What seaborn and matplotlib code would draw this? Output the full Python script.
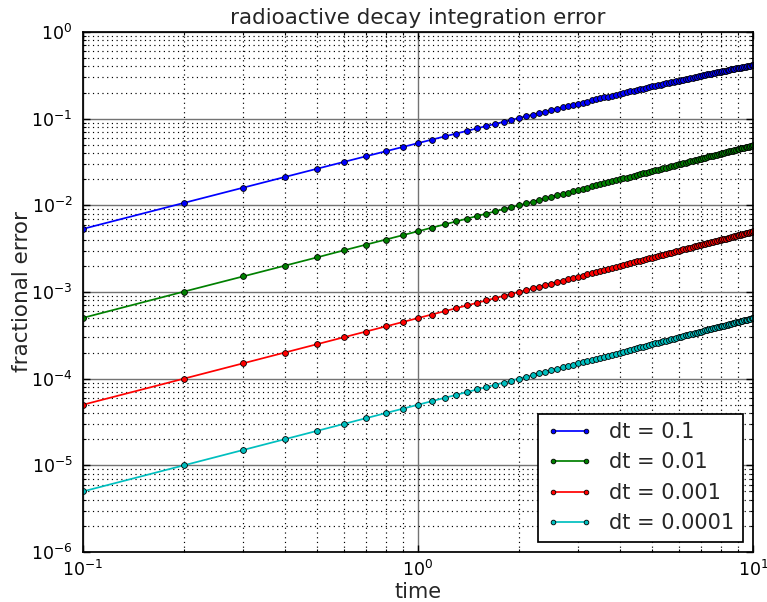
import matplotlib
matplotlib.use("Agg")
import matplotlib.pyplot as plt
import seaborn as sns

# ---------------- data ----------------
time = [0.1, 0.2, 0.3, 0.4, 0.5, 0.6, 0.7, 0.8, 0.9, 1.0,
        1.1, 1.2, 1.3, 1.4, 1.5, 1.6, 1.7, 1.8, 1.9, 2.0,
        2.1, 2.2, 2.3, 2.4, 2.5, 2.6, 2.7, 2.8, 2.9, 3.0,
        3.1, 3.2, 3.3, 3.4, 3.5, 3.6, 3.7, 3.8, 3.9, 4.0,
        4.1, 4.2, 4.3, 4.4, 4.5, 4.6, 4.7, 4.8, 4.9, 5.0,
        5.1, 5.2, 5.3, 5.4, 5.5, 5.6, 5.7, 5.8, 5.9, 6.0,
        6.1, 6.2, 6.3, 6.4, 6.5, 6.6, 6.7, 6.8, 6.9, 7.0,
        7.1, 7.2, 7.3, 7.4, 7.5, 7.6, 7.7, 7.8, 7.9, 8.0,
        8.1, 8.2, 8.3, 8.4, 8.5, 8.6, 8.7, 8.8, 8.9, 9.0,
        9.1, 9.2, 9.3, 9.4, 9.5, 9.6, 9.7, 9.8, 9.9, 10.0]

err_dt_0_1 = [0.005346, 0.01066, 0.01595, 0.02121, 0.02645, 0.03165, 0.03683, 0.04198, 0.04710, 0.05219,
              0.05726, 0.06230, 0.06731, 0.07230, 0.07726, 0.08219, 0.08710, 0.09198, 0.09684, 0.1017,
              0.1065, 0.1112, 0.1160, 0.1207, 0.1254, 0.1301, 0.1347, 0.1394, 0.1440, 0.1486,
              0.1531, 0.1576, 0.1621, 0.1666, 0.1711, 0.1755, 0.1799, 0.1843, 0.1887, 0.1930,
              0.1973, 0.2016, 0.2059, 0.2101, 0.2143, 0.2185, 0.2227, 0.2269, 0.2310, 0.2351,
              0.2392, 0.2433, 0.2473, 0.2513, 0.2553, 0.2593, 0.2633, 0.2672, 0.2711, 0.2750,
              0.2789, 0.2828, 0.2866, 0.2904, 0.2942, 0.2980, 0.3017, 0.3055, 0.3092, 0.3129,
              0.3165, 0.3202, 0.3238, 0.3275, 0.3310, 0.3346, 0.3382, 0.3417, 0.3452, 0.3487,
              0.3522, 0.3557, 0.3591, 0.3626, 0.3660, 0.3694, 0.3727, 0.3761, 0.3794, 0.3827,
              0.3860, 0.3893, 0.3926, 0.3958, 0.3991, 0.4023, 0.4055, 0.4086, 0.4118, 0.4149]

err_dt_0_01 = [0.000503, 0.00101, 0.00151, 0.00201, 0.00251, 0.00302, 0.00352, 0.00402, 0.00452, 0.00502,
               0.00552, 0.00602, 0.00652, 0.00702, 0.00752, 0.00802, 0.00852, 0.00902, 0.00952, 0.0100,
               0.0105, 0.0110, 0.0115, 0.0120, 0.0125, 0.0130, 0.0135, 0.0140, 0.0145, 0.0150,
               0.0155, 0.0160, 0.0165, 0.0170, 0.0175, 0.0180, 0.0185, 0.0189, 0.0194, 0.0199,
               0.0204, 0.0209, 0.0214, 0.0219, 0.0224, 0.0229, 0.0234, 0.0239, 0.0244, 0.0249,
               0.0253, 0.0258, 0.0263, 0.0268, 0.0273, 0.0278, 0.0283, 0.0288, 0.0293, 0.0298,
               0.0302, 0.0307, 0.0312, 0.0317, 0.0322, 0.0327, 0.0332, 0.0336, 0.0341, 0.0346,
               0.0351, 0.0356, 0.0361, 0.0366, 0.0370, 0.0375, 0.0380, 0.0385, 0.0390, 0.0395,
               0.0400, 0.0404, 0.0409, 0.0414, 0.0419, 0.0424, 0.0428, 0.0433, 0.0438, 0.0443,
               0.0448, 0.0453, 0.0457, 0.0462, 0.0467, 0.0472, 0.0477, 0.0481, 0.0486, 0.0491]

err_dt_0_001 = [5.0e-5, 1.0e-4, 1.5e-4, 2.0e-4, 2.5e-4, 3.0e-4, 3.5e-4, 4.0e-4, 4.5e-4, 5.0e-4,
                5.5e-4, 6.0e-4, 6.5e-4, 7.0e-4, 7.5e-4, 8.0e-4, 8.5e-4, 9.0e-4, 9.5e-4, 1.00e-3,
                1.05e-3, 1.10e-3, 1.15e-3, 1.20e-3, 1.25e-3, 1.30e-3, 1.35e-3, 1.40e-3, 1.45e-3, 1.50e-3,
                1.55e-3, 1.60e-3, 1.65e-3, 1.70e-3, 1.75e-3, 1.80e-3, 1.85e-3, 1.90e-3, 1.95e-3, 2.00e-3,
                2.05e-3, 2.10e-3, 2.15e-3, 2.20e-3, 2.25e-3, 2.30e-3, 2.35e-3, 2.40e-3, 2.45e-3, 2.50e-3,
                2.55e-3, 2.60e-3, 2.65e-3, 2.70e-3, 2.75e-3, 2.80e-3, 2.85e-3, 2.90e-3, 2.95e-3, 3.00e-3,
                3.05e-3, 3.10e-3, 3.15e-3, 3.20e-3, 3.25e-3, 3.30e-3, 3.35e-3, 3.40e-3, 3.45e-3, 3.50e-3,
                3.55e-3, 3.60e-3, 3.65e-3, 3.70e-3, 3.75e-3, 3.80e-3, 3.85e-3, 3.89e-3, 3.94e-3, 3.99e-3,
                4.04e-3, 4.09e-3, 4.14e-3, 4.19e-3, 4.24e-3, 4.29e-3, 4.34e-3, 4.39e-3, 4.44e-3, 4.49e-3,
                4.54e-3, 4.59e-3, 4.64e-3, 4.69e-3, 4.74e-3, 4.79e-3, 4.84e-3, 4.89e-3, 4.94e-3, 4.99e-3]

err_dt_0_0001 = [5.0e-6, 1.0e-5, 1.5e-5, 2.0e-5, 2.5e-5, 3.0e-5, 3.5e-5, 4.0e-5, 4.5e-5, 5.0e-5,
                 5.5e-5, 6.0e-5, 6.5e-5, 7.0e-5, 7.5e-5, 8.0e-5, 8.5e-5, 9.0e-5, 9.5e-5, 1.00e-4,
                 1.05e-4, 1.10e-4, 1.15e-4, 1.20e-4, 1.25e-4, 1.30e-4, 1.35e-4, 1.40e-4, 1.45e-4, 1.50e-4,
                 1.55e-4, 1.60e-4, 1.65e-4, 1.70e-4, 1.75e-4, 1.80e-4, 1.85e-4, 1.90e-4, 1.95e-4, 2.00e-4,
                 2.05e-4, 2.10e-4, 2.15e-4, 2.20e-4, 2.25e-4, 2.30e-4, 2.35e-4, 2.40e-4, 2.45e-4, 2.50e-4,
                 2.55e-4, 2.60e-4, 2.65e-4, 2.70e-4, 2.75e-4, 2.80e-4, 2.85e-4, 2.90e-4, 2.95e-4, 3.00e-4,
                 3.05e-4, 3.10e-4, 3.15e-4, 3.20e-4, 3.25e-4, 3.30e-4, 3.35e-4, 3.40e-4, 3.45e-4, 3.50e-4,
                 3.55e-4, 3.60e-4, 3.65e-4, 3.70e-4, 3.75e-4, 3.80e-4, 3.85e-4, 3.90e-4, 3.95e-4, 4.00e-4,
                 4.05e-4, 4.10e-4, 4.15e-4, 4.20e-4, 4.25e-4, 4.30e-4, 4.35e-4, 4.40e-4, 4.45e-4, 4.50e-4,
                 4.55e-4, 4.60e-4, 4.65e-4, 4.70e-4, 4.75e-4, 4.80e-4, 4.85e-4, 4.90e-4, 4.95e-4, 5.00e-4]

series_labels = ["dt = 0.1", "dt = 0.01", "dt = 0.001", "dt = 0.0001"]
series_values = [err_dt_0_1, err_dt_0_01, err_dt_0_001, err_dt_0_0001]
series_colors = ["#0000ff", "#008000", "#ff0000", "#00bfbf"]

title_text = "radioactive decay integration error"
x_label = "time"
y_label = "fractional error"

# ---------------- style ----------------
sns.set_style("white")
plt.rcParams.update({
    "font.family": ["DejaVu Sans"],
    "font.size": 15,
    "mathtext.fontset": "dejavusans",
    "mathtext.default": "regular",
    "axes.linewidth": 1.25,
    "axes.edgecolor": "black",
    "xtick.direction": "in",
    "ytick.direction": "in",
    "xtick.top": True,
    "ytick.right": True,
    "xtick.bottom": True,
    "ytick.left": True,
    "xtick.major.size": 5,
    "ytick.major.size": 5,
    "xtick.minor.size": 2.5,
    "ytick.minor.size": 2.5,
    "xtick.major.width": 1.0,
    "ytick.major.width": 1.0,
    "xtick.minor.width": 0.8,
    "ytick.minor.width": 0.8,
    "xtick.major.pad": 5.5,
    "ytick.major.pad": 7.5,
    "xtick.color": "black",
    "ytick.color": "black",
    "xtick.labelsize": 12.5,
    "ytick.labelsize": 12.5,
})

fig = plt.figure(figsize=(7.67, 6.02), dpi=100)
ax = fig.add_axes([83 / 767, 1 - 552 / 602, (753 - 83) / 767, (552 - 32) / 602])

for lab, vals, col in zip(series_labels, series_values, series_colors):
    sns.lineplot(x=time, y=vals, ax=ax, color=col, label=lab,
                 marker="o", markersize=4.2, markeredgecolor="black",
                 markeredgewidth=0.6, linewidth=1.25,
                 estimator=None, sort=False, clip_on=True, zorder=3)

ax.set_xscale("log")
ax.set_yscale("log")
ax.set_xlim(0.1, 10)
ax.set_ylim(1e-6, 1)

ax.grid(True, which="major", color="0.45", linestyle="-", linewidth=1.0, zorder=0)
ax.grid(True, which="minor", color="black", linestyle=(0, (1, 3)), linewidth=0.85, zorder=0)
ax.set_axisbelow(True)
for sp in ax.spines.values():
    sp.set_visible(True)
    sp.set_color("black")
    sp.set_zorder(5)

ax.set_title(title_text, fontsize=15.5, pad=6)
ax.set_xlabel(x_label, fontsize=15, labelpad=1.5)
ax.set_ylabel(y_label, fontsize=15.5, labelpad=-1)

leg = ax.legend(loc="lower right", fontsize=15, frameon=True, fancybox=False,
                edgecolor="black", framealpha=1.0, numpoints=2,
                handlelength=2.2, handletextpad=0.8, borderaxespad=0.5,
                labelspacing=0.5, borderpad=0.4, markerscale=0.8)
leg.get_frame().set_linewidth(1.25)

fig.savefig("out.png", dpi=100)
